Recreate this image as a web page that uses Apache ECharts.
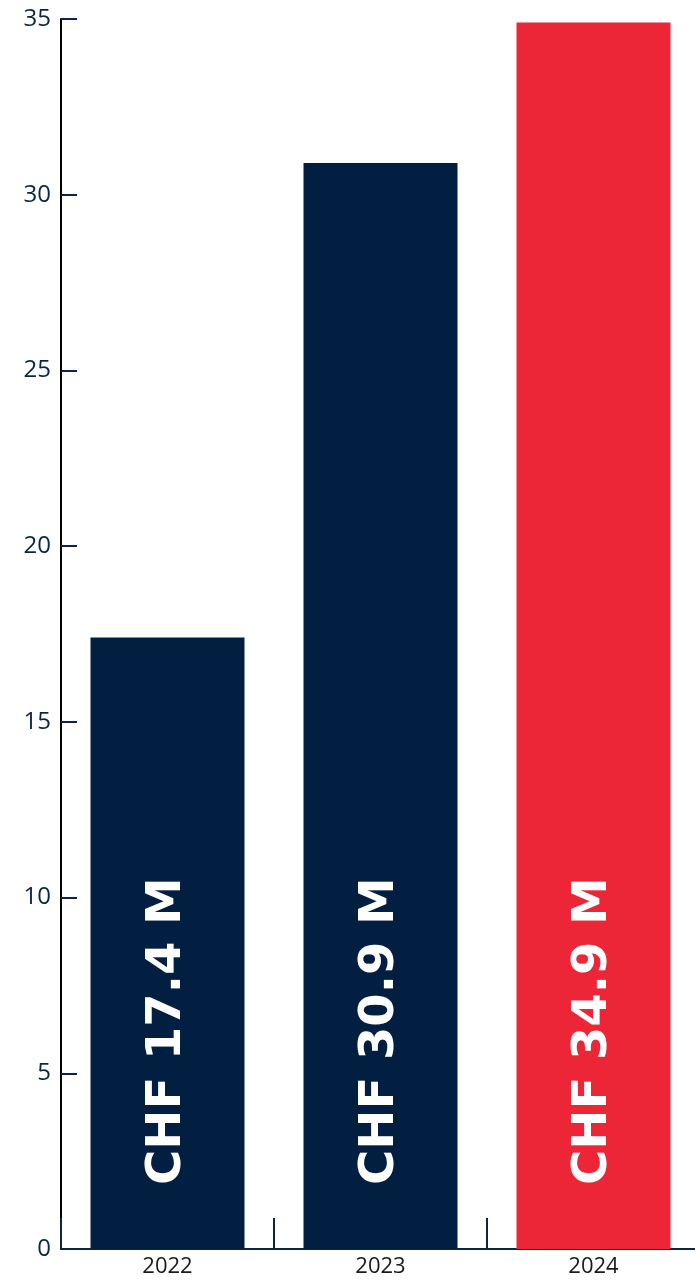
<!DOCTYPE html>
<html>
<head>
<meta charset="utf-8">
<script src="https://cdn.jsdelivr.net/npm/echarts@6/dist/echarts.min.js"></script>
<style>html,body{margin:0;padding:0;background:#fff}#c{width:695px;height:1282px}</style>
</head>
<body>
<div id="c"></div>
<script>
const categories = ['2022', '2023', '2024'];
const values = [17.4, 30.9, 34.9];
const barLabels = ['CHF 17.4 M', 'CHF 30.9 M', 'CHF 34.9 M'];
const barColors = ['#021f41', '#021f41', '#ec2537'];
const yTicks = [0, 5, 10, 15, 20, 25, 30, 35];

const chart = echarts.init(document.getElementById('c'));
chart.setOption({
  animation: false,
  grid: { left: 61, top: 19, width: 639, height: 1230, containLabel: false, outerBoundsMode: 'none' },
  xAxis: {
    type: 'category',
    data: categories,
    axisLine: { lineStyle: { color: '#0b2545', width: 2 } },
    axisTick: { show: true, inside: true, length: 31, lineStyle: { color: '#0b2545', width: 2 } },
    axisLabel: { color: '#1a1a1a', fontSize: 22, fontFamily: 'Open Sans', margin: 7 }
  },
  yAxis: {
    type: 'value',
    min: yTicks[0], max: yTicks[yTicks.length - 1], interval: 5,
    axisLine: { show: true, lineStyle: { color: '#000', width: 2 } },
    axisTick: { show: true, inside: true, length: 16, lineStyle: { color: '#0b2545', width: 2 } },
    splitLine: { show: false },
    axisLabel: { color: '#0b2545', fontSize: 24, fontFamily: 'Open Sans', margin: 10 }
  },
  series: [{
    type: 'bar',
    barWidth: 154,
    data: values.map((v, i) => ({ value: v, itemStyle: { color: barColors[i] } })),
    label: {
      show: true,
      position: 'insideBottom',
      distance: 64,
      rotate: 90,
      align: 'left',
      verticalAlign: 'middle',
      color: '#fff',
      fontSize: 48,
      fontWeight: 'bold',
      fontFamily: 'DejaVu Sans',
      formatter: p => barLabels[p.dataIndex]
    }
  }]
});
</script>
</body>
</html>
